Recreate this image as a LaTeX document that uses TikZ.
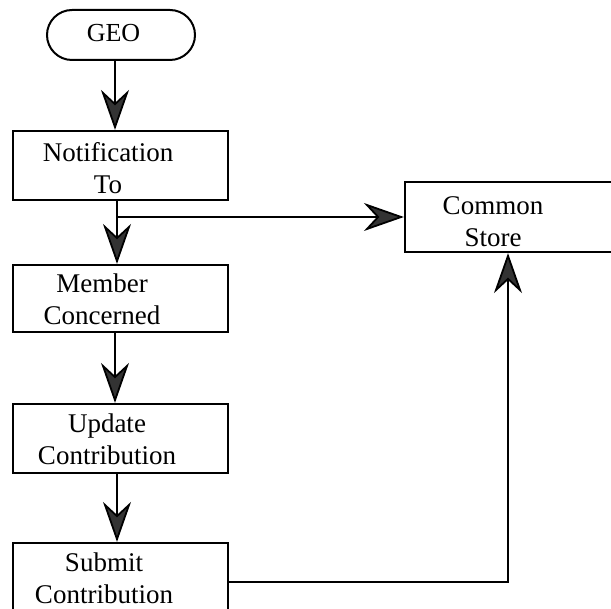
\documentclass[tikz,border=0pt]{standalone}
\usepackage{fontspec}
\setmainfont{Liberation Serif}
\usetikzlibrary{arrows.meta}
\begin{document}
\begin{tikzpicture}[x=1pt,y=-1pt,
  box/.style={draw=black, line width=2.2pt, minimum width=215pt,
    minimum height=69pt, inner sep=0pt},
  term/.style={draw=black, line width=2pt, rounded corners=25pt,
    minimum width=148pt, minimum height=50pt, inner sep=0pt},
  boxtext/.style={align=center, inner sep=0pt,
    font=\fontsize{27}{32}\selectfont},
  flow/.style={line width=1.8pt,
    -{Stealth[length=40pt,width=28pt,inset=13pt,fill=black!80]}},
]
\clip (0,0) rectangle (611,609);

% terminal and process boxes
\node[term] (geo) at (121,35) {};
\node[boxtext, font=\fontsize{26}{30}\selectfont] (geo-t) at (113.5,33) {GEO};

\node[box] (notif) at (120.5,165.5) {};
\node[boxtext] (notif-t) at (108,168) {Notification\\To};

\node[box, minimum height=67pt] (member) at (120.5,298.5) {};
\node[boxtext] (member-t) at (102,299.5) {Member\\Concerned};

\node[box] (update) at (120.5,438.5) {};
\node[boxtext] (update-t) at (107,439.5) {Update\\Contribution};

\node[box] (submit) at (120.5,577.5) {};
\node[boxtext] (submit-t) at (104,578.5) {Submit\\Contribution};

% the store box runs on past the right edge of the page
\node[box, minimum width=225pt, minimum height=70pt] (store) at (517.5,217) {};
\node[boxtext] (store-t) at (493,222) {Common\\Store};

% main flow
\draw[flow] ([xshift=-6pt]geo.south) -- ([xshift=-6pt]geo.south |- notif.north);
\draw[flow] ([xshift=-3.5pt]notif.south) -- ([xshift=-3.5pt]notif.south |- member.north);
\coordinate (split) at ([xshift=-3.5pt]notif.south |- store.west);
\draw[flow] (split) -- (store.west);
\draw[flow] ([xshift=-5.5pt]member.south) -- ([xshift=-5.5pt]member.south |- update.north);
\draw[flow] ([xshift=-3.5pt]update.south) -- ([xshift=-3.5pt]update.south |- submit.north);

% return path to the common store
\draw[flow] ([yshift=-4.5pt]submit.east) -| ([xshift=-9.5pt]store.south);
\end{tikzpicture}
\end{document}
